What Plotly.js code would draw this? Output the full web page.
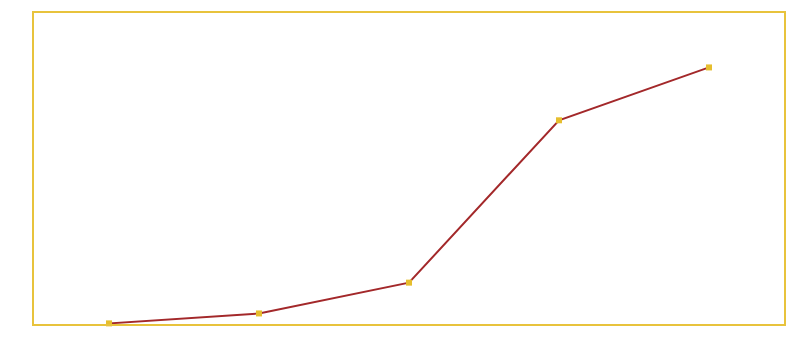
<!DOCTYPE html>
<html>
<head>
<meta charset="utf-8">
<script src="https://cdn.plot.ly/plotly-3.0.1.min.js"></script>
<style>html,body{margin:0;padding:0;background:#fff;}#chart{width:786px;height:338px;}</style>
</head>
<body>
<div id="chart"></div>
<script>
const categories = ["A", "B", "C", "D", "E"];
const values = [0.2, 3.4, 13.3, 65.5, 82.5];

const trace = {
  x: categories,
  y: values,
  type: "scatter",
  mode: "lines+markers",
  line: {color: "#A3282A", width: 2},
  marker: {symbol: "square", size: 6, color: "#E6BE2E"},
  cliponaxis: false,
  hoverinfo: "none"
};

const layout = {
  width: 786,
  height: 338,
  margin: {l: 34, r: 2, t: 13, b: 14, pad: 0},
  paper_bgcolor: "#ffffff",
  plot_bgcolor: "#ffffff",
  showlegend: false,
  xaxis: {
    type: "category",
    range: [-0.5, 4.5],
    showgrid: false, zeroline: false, showticklabels: false, ticks: "",
    showline: true, mirror: true, linecolor: "#E8C33C", linewidth: 2
  },
  yaxis: {
    range: [0, 100],
    showgrid: false, zeroline: false, showticklabels: false, ticks: "",
    showline: true, mirror: true, linecolor: "#E8C33C", linewidth: 2
  }
};

Plotly.newPlot("chart", [trace], layout, {displayModeBar: false, staticPlot: true});
</script>
</body>
</html>
